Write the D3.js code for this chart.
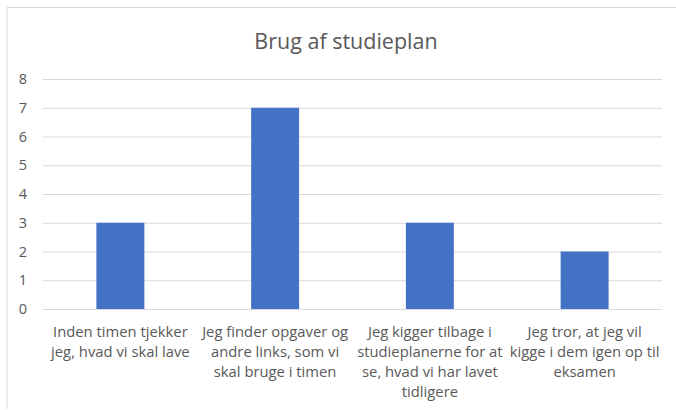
<!DOCTYPE html>
<html>
<head>
<meta charset="utf-8">
<script src="https://cdn.jsdelivr.net/npm/d3@7"></script>
<style>
body { margin: 0; background: #fff; }
text { font-family: "Open Sans", "Liberation Sans", sans-serif; fill: #595959; }
</style>
</head>
<body>
<script>
const width = 676
const height = 410

const title = "Brug af studieplan"
const categories = ["c1", "c2", "c3", "c4"]
const catLines = [
    ["Inden timen tjekker", "jeg, hvad vi skal lave"],
    ["Jeg finder opgaver og", "andre links, som vi", "skal bruge i timen"],
    ["Jeg kigger tilbage i", "studieplanerne for at", "se, hvad vi har lavet", "tidligere"],
    ["Jeg tror, at jeg vil", "kigge i dem igen op til", "eksamen"]
]
const values = [3, 7, 3, 2]
const yTicks = [0, 1, 2, 3, 4, 5, 6, 7, 8]

const svg = d3.select("body")
    .append("svg")
    .attr("width", width)
    .attr("height", height)

// chart frame (only top and left edges show)
svg.append("path")
    .attr("d", "M7,409 V7.5 H676")
    .attr("fill", "none")
    .attr("stroke", "#d9d9d9")

const xScale = d3.scaleBand().domain(categories).range([43, 662]).paddingInner(0.69).paddingOuter(0.345)
const yScale = d3.scaleLinear().domain([0, 8]).range([309, 79])

svg.append("text")
    .attr("x", 346)
    .attr("y", 49)
    .attr("text-anchor", "middle")
    .attr("font-size", 21.5)
    .text(title)

// gridlines
svg.selectAll(".grid")
    .data(yTicks)
    .enter()
    .append("line")
    .attr("x1", 43)
    .attr("x2", 662)
    .attr("y1", d => yScale(d) + 0.5)
    .attr("y2", d => yScale(d) + 0.5)
    .attr("stroke", "#d9d9d9")

const yAxis = d3.axisLeft(yScale).tickValues(yTicks).tickSize(0).tickPadding(13)
const gy = svg.append("g")
    .attr("transform", "translate(40,0)")
    .call(yAxis)
gy.select(".domain").remove()
gy.selectAll("text").attr("font-size", 14.5).style("font-family", null)

svg.selectAll("rect.bar")
    .data(values)
    .enter()
    .append("rect")
    .attr("class", "bar")
    .attr("x", (d, i) => xScale(categories[i]))
    .attr("y", d => yScale(d))
    .attr("width", xScale.bandwidth())
    .attr("height", d => yScale(0) - yScale(d))
    .attr("fill", "#4472c4")

// category labels
const labels = svg.selectAll(".cat")
    .data(catLines)
    .enter()
    .append("text")
    .attr("class", "cat")
    .attr("text-anchor", "middle")
    .attr("font-size", 14.8)
    .attr("x", (d, i) => xScale(categories[i]) + xScale.bandwidth() / 2)
    .attr("y", 337)

labels.selectAll("tspan")
    .data(d => d)
    .enter()
    .append("tspan")
    .attr("x", function () { return this.parentNode.getAttribute("x") })
    .attr("dy", (d, i) => i === 0 ? 0 : 20)
    .text(d => d)
</script>
</body>
</html>
